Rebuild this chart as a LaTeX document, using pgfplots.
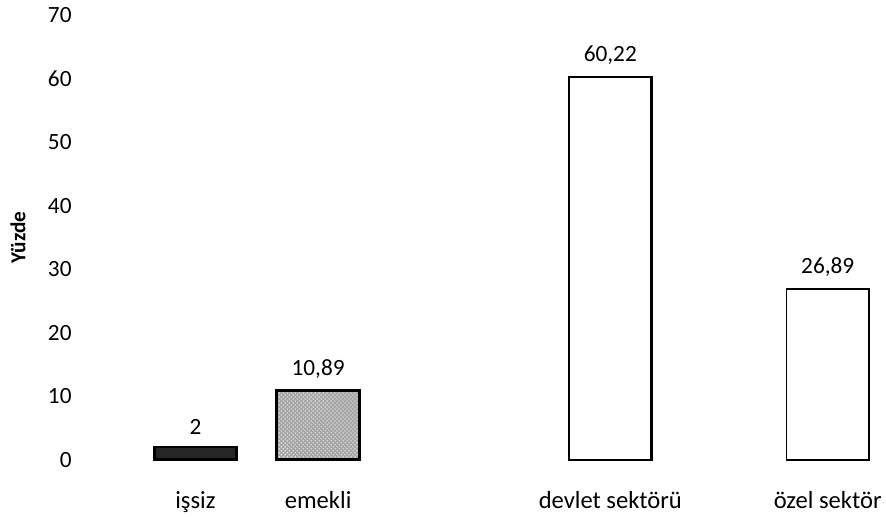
\documentclass[border=0pt]{standalone}
\usepackage{fontspec}
\setmainfont{Carlito}
\usepackage{pgfplots}
\pgfplotsset{compat=1.18}
\usetikzlibrary{patterns}

\begin{document}
\begin{tikzpicture}[x=1pt,y=1pt]
% invisible frame to fix the page size to 886x512 px (1px = 0.75pt)
\path (0,0) rectangle (664.5,384);
\begin{axis}[
  at={(58.5pt,38.25pt)}, anchor=origin,
  scale only axis, width=606pt, height=334.5pt,
  xmin=0.78, xmax=8.86, ymin=0, ymax=70,
  ybar, bar width=62pt, bar shift=0pt,
  axis x line=bottom, axis y line=left,
  axis line style={draw=none},
  ytick={0,10,...,70}, xtick={1.96,3.19,6.12,8.30},
  xticklabels={işsiz,emekli,devlet sektörü,özel sektör},
  tick style={draw=none},
  yticklabel style={font=\fontsize{17.5}{19}\selectfont, xshift=1pt},
  xticklabel style={font=\fontsize{18.5}{20}\selectfont, yshift=-18pt},
  /pgf/number format/assume math mode=true,
  /pgf/number format/use comma,
  /pgf/number format/fixed, /pgf/number format/precision=2,
  nodes near coords,
  nodes near coords style={font=\fontsize{17.5}{19}\selectfont, yshift=5pt,
    /pgf/number format/assume math mode=true,
    /pgf/number format/use comma, /pgf/number format/fixed,
    /pgf/number format/precision=2},
  ylabel={\textbf{Yüzde}},
  every axis y label/.style={at={(axis description cs:0,0.5)}, xshift=-45pt,
    rotate=90, anchor=center, font=\fontsize{16}{18}\selectfont},
  clip=false]
\addplot[draw=black, line width=2pt, fill=black!85] coordinates {(1.96,2)};
\addplot[draw=black, line width=2.2pt, fill=black!35, postaction={pattern=crosshatch dots, pattern color=white}] coordinates {(3.19,10.89)};
\addplot[draw=black, line width=1.6pt, fill=white] coordinates {(6.12,60.22)};
\addplot[draw=black, line width=1.3pt, fill=white] coordinates {(8.30,26.89)};
\end{axis}
\end{tikzpicture}
\end{document}
